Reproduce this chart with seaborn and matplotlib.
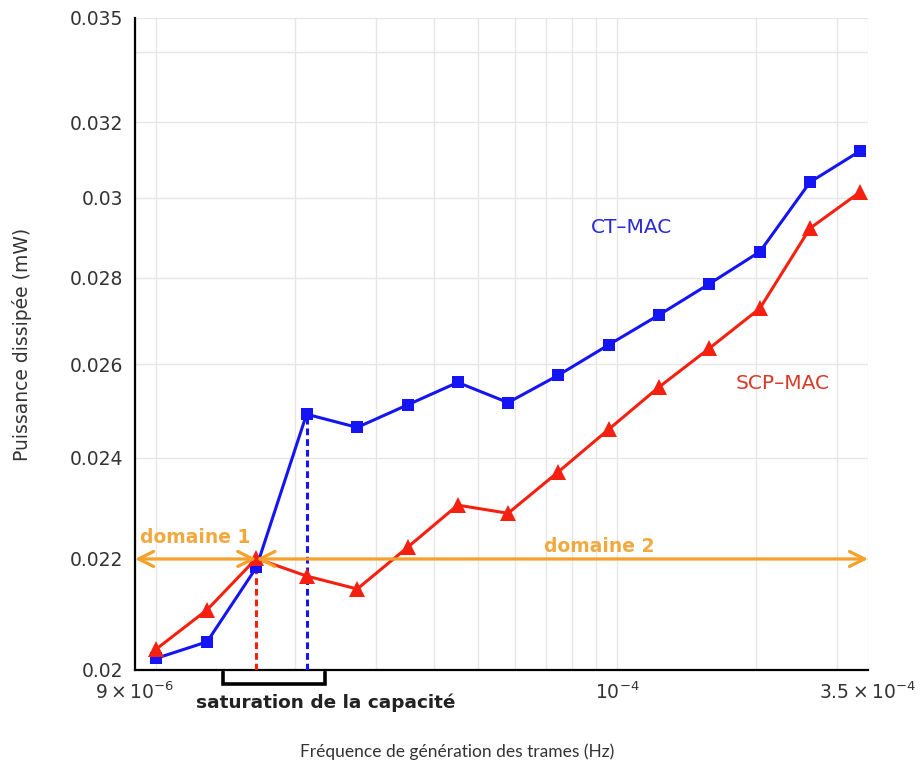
import numpy as np
import pandas as pd
import matplotlib
matplotlib.use("Agg")
import matplotlib.pyplot as plt
import matplotlib.transforms as mtransforms
from matplotlib.font_manager import FontProperties
import seaborn as sns

# Frame generation frequency (Hz)
freq = [1.00e-5, 1.29e-5, 1.65e-5, 2.12e-5, 2.73e-5, 3.51e-5, 4.51e-5, 5.80e-5,
        7.46e-5, 9.59e-5, 1.23e-4, 1.585e-4, 2.04e-4, 2.62e-4, 3.37e-4]
# Dissipated power (mW)
ct_mac = [0.02020, 0.02049, 0.02184, 0.02491, 0.02463, 0.02511, 0.02560, 0.02516,
          0.02576, 0.02644, 0.02712, 0.02786, 0.02864, 0.03040, 0.03123]
scp_mac = [0.02036, 0.02106, 0.02201, 0.02168, 0.02144, 0.02222, 0.02304, 0.02288,
           0.02371, 0.02459, 0.02549, 0.02636, 0.02728, 0.02922, 0.03015]

y_ticks = [0.02, 0.022, 0.024, 0.026, 0.028, 0.03, 0.032, 0.035]
y_labels = ["0.02", "0.022", "0.024", "0.026", "0.028", "0.03", "0.032", "0.035"]
y_minor = [0.034]
x_ticks = [9e-6, 1e-4, 3.5e-4]
x_labels = [r"$9\times10^{-6}$", r"$10^{-4}$", r"$3.5\times10^{-4}$"]
x_minor = [1e-5, 2e-5, 3e-5, 4e-5, 5e-5, 6e-5, 7e-5, 8e-5, 9e-5, 2e-4, 3e-4]

x_range = (9e-6, 3.5e-4)
y_range = (0.02, 0.035)
domain_level = 0.022
saturation_start = 2      # index where SCP-MAC saturates
saturation_ct = 3         # index where CT-MAC saturates
bracket_x = (1.40e-5, 2.33e-5)

BLUE = "#1414f5"
RED = "#f5200f"
ORANGE = "#f6a129"
ORANGE_TXT = "#efa93f"

sns.set_theme(style="white")
plt.rcParams["font.family"] = ["DejaVu Sans"]
plt.rcParams["mathtext.fontset"] = "dejavusans"

df = pd.DataFrame({
    "freq": freq * 2,
    "power": ct_mac + scp_mac,
    "protocol": ["CT-MAC"] * len(freq) + ["SCP-MAC"] * len(freq),
})

fig = plt.figure(figsize=(9.21, 7.66), dpi=100)
ax = fig.add_axes([135 / 921, 1 - 670 / 766, 733 / 921, 652 / 766])

sns.lineplot(data=df, x="freq", y="power", hue="protocol", style="protocol",
             palette={"CT-MAC": BLUE, "SCP-MAC": RED},
             markers={"CT-MAC": "s", "SCP-MAC": "^"},
             dashes=False, linewidth=2.2, markeredgewidth=0,
             legend=False, ax=ax, zorder=4)
for line in ax.lines:
    if line.get_marker() == "s":
        line.set_markersize(9)
    else:
        line.set_markersize(11)

ax.set_xscale("log")
ax.set_yscale("log")
ax.set_xlim(*x_range)
ax.set_ylim(*y_range)

ax.set_yticks(y_ticks)
ax.set_yticklabels(y_labels)
ax.set_yticks(y_minor, minor=True)
ax.set_yticklabels([], minor=True)
ax.set_xticks(x_ticks)
ax.set_xticklabels(x_labels)
ax.set_xticks(x_minor, minor=True)
ax.set_xticklabels([], minor=True)

ax.grid(True, which="both", color="#e6e6e6", linewidth=1.0, zorder=0)
ax.set_axisbelow(True)
for s in ["top", "right"]:
    ax.spines[s].set_visible(False)
for s in ["left", "bottom"]:
    ax.spines[s].set_color("black")
    ax.spines[s].set_linewidth(1.6)
ax.tick_params(which="both", direction="inout", length=7, width=1.2, color="black")
ax.tick_params(axis="both", which="major", labelsize=13.5, labelcolor="#333333", pad=5)

ax.set_ylabel("Puissance dissipée (mW)", fontsize=13.5, color="#333333")
ax.yaxis.set_label_coords(-0.1405, 0.5)
ax.set_xlabel("")
label_font = FontProperties(family=["Lato", "DejaVu Sans"], size=12.5)
fig.text(457 / 921, 1 - 752 / 766, "Fréquence de génération des trames (Hz)",
         fontproperties=label_font, color="#333333", ha="center", va="center")

# saturation markers
ax.plot([freq[saturation_start]] * 2, [y_range[0], ct_mac[saturation_start]],
        color=RED, linestyle=(0, (2.2, 1.3)), linewidth=2.2, zorder=3)
ax.plot([freq[saturation_ct]] * 2, [y_range[0], ct_mac[saturation_ct]],
        color=BLUE, linestyle=(0, (2.2, 1.3)), linewidth=2.2, zorder=3)

# domain arrows
arrow_kw = dict(arrowstyle="<->,head_length=0.9,head_width=0.45", color=ORANGE,
                lw=2.3, shrinkA=0, shrinkB=0)
ax.annotate("", xy=(x_range[0], domain_level), xytext=(freq[saturation_start], domain_level),
            arrowprops=arrow_kw, zorder=5)
ax.annotate("", xy=(freq[saturation_start], domain_level), xytext=(x_range[1], domain_level),
            arrowprops=arrow_kw, zorder=5)
ax.text(0.082, 0.2025, "domaine 1", transform=ax.transAxes, color=ORANGE_TXT,
        fontsize=13.5, fontweight="bold", ha="center", va="center")
ax.text(0.634, 0.190, "domaine 2", transform=ax.transAxes, color=ORANGE_TXT,
        fontsize=13.5, fontweight="bold", ha="center", va="center")

ax.text(0.677, 0.679, "CT–MAC", transform=ax.transAxes, color="#2a2ad0",
        fontsize=14.5, ha="center", va="center")
ax.text(0.884, 0.440, "SCP–MAC", transform=ax.transAxes, color="#d83a2a",
        fontsize=14.5, ha="center", va="center")

# capacity saturation bracket below the axis
trans = mtransforms.blended_transform_factory(ax.transData, ax.transAxes)
bx = [bracket_x[0], bracket_x[0], bracket_x[1], bracket_x[1]]
by = [-0.003, -0.022, -0.022, -0.003]
ax.plot(bx, by, transform=trans, color="black", linewidth=2.6, clip_on=False,
        solid_joinstyle="miter")
fig.text(326 / 921, 1 - 703 / 766, "saturation de la capacité", fontsize=13.3,
         fontweight="bold", color="#222222", ha="center", va="center")

fig.savefig("out.png", dpi=100, facecolor="white")
